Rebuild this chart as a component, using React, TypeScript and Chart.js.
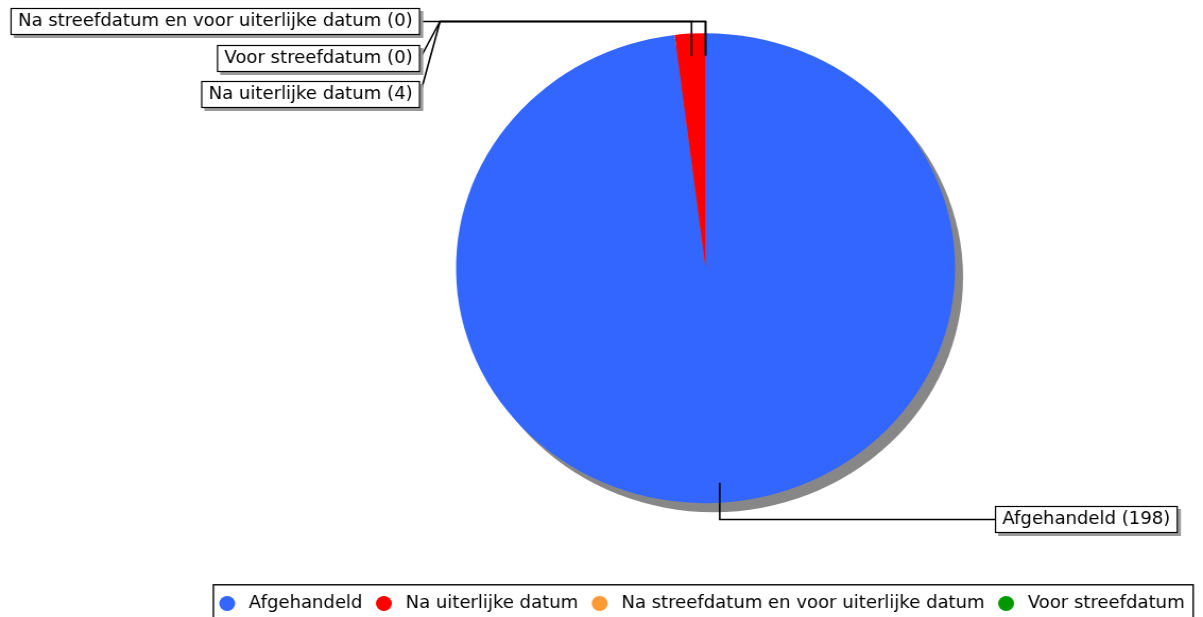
import React, { useEffect, useRef } from "react";
import { Chart, registerables } from "chart.js";

Chart.register(...registerables);

const categories = [
  "Afgehandeld",
  "Na uiterlijke datum",
  "Na streefdatum en voor uiterlijke datum",
  "Voor streefdatum",
];
const counts = [198, 4, 0, 0];
const sliceColors = ["#3366ff", "#ff0000", "#ff9933", "#009900"];

const FONT = '"DejaVu Sans", "Liberation Sans", sans-serif';
const W = 1133;
const H = 622;

const labelText = (i: number) => `${categories[i]} (${counts[i]})`;

// place the pie area (left part of the canvas is reserved for the callout boxes)
const areaPlugin = {
  id: "areaShift",
  afterLayout(chart: any) {
    const a = chart.chartArea;
    a.left = 196;
    a.right = W;
    a.top = -47;
    a.width = a.right - a.left;
    a.height = a.bottom - a.top;
  },
};

const shadowPlugin = {
  id: "pieShadow",
  beforeDatasetsDraw(chart: any) {
    const arc = chart.getDatasetMeta(0).data[0];
    if (!arc) return;
    const ctx = chart.ctx;
    ctx.save();
    ctx.fillStyle = "#878787";
    ctx.beginPath();
    ctx.arc(arc.x + 7.5, arc.y + 9, arc.outerRadius, 0, Math.PI * 2);
    ctx.fill();
    ctx.restore();
  },
};

const calloutPlugin = {
  id: "callouts",
  afterDraw(chart: any) {
    const ctx = chart.ctx;
    const arcs = chart.getDatasetMeta(0).data;
    const anchor = (i: number, f: number) => {
      const a = arcs[i];
      const mid = (a.startAngle + a.endAngle) / 2;
      return {
        x: a.x + Math.cos(mid) * a.outerRadius * f,
        y: a.y + Math.sin(mid) * a.outerRadius * f,
      };
    };
    ctx.save();
    ctx.font = `17px ${FONT}`;
    ctx.textBaseline = "middle";
    const pad = 7;
    const bh = 27;

    const leftOrder = [2, 3, 1];
    const leftY = [21.5, 58.5, 94.5];
    const leftEdge = 395.6;
    const jointX = 414.4;
    const lineY = leftY[0];

    ctx.strokeStyle = "#000";
    ctx.lineWidth = 1.6;
    leftOrder.forEach((idx, k) => {
      const p = anchor(idx, 0.905);
      ctx.beginPath();
      ctx.moveTo(leftEdge, leftY[k]);
      ctx.lineTo(jointX, lineY);
      ctx.lineTo(p.x, lineY);
      ctx.lineTo(p.x, p.y);
      ctx.stroke();
    });

    const rightOrder = [0];
    const rightY = [519.5];
    const rightEdge = 937.1;
    rightOrder.forEach((idx, k) => {
      const p = anchor(idx, 0.915);
      ctx.beginPath();
      ctx.moveTo(p.x, p.y);
      ctx.lineTo(p.x, rightY[k]);
      ctx.lineTo(rightEdge, rightY[k]);
      ctx.stroke();
    });

    const drawBox = (x: number, cy: number, text: string) => {
      const w = ctx.measureText(text).width + pad * 2;
      const top = cy - bh / 2;
      ctx.fillStyle = "#9a9a9a";
      ctx.fillRect(x + 3, top + 3, w, bh);
      ctx.fillStyle = "#fff";
      ctx.fillRect(x, top, w, bh);
      ctx.lineWidth = 1.2;
      ctx.strokeStyle = "#000";
      ctx.strokeRect(x + 0.5, top + 0.5, w - 1, bh - 1);
      ctx.fillStyle = "#000";
      ctx.textAlign = "left";
      ctx.fillText(text, x + pad, cy + 0.5);
    };

    leftOrder.forEach((idx, k) => {
      const t = labelText(idx);
      const w = ctx.measureText(t).width + pad * 2;
      drawBox(leftEdge - w, leftY[k], t);
    });
    rightOrder.forEach((idx, k) => {
      drawBox(rightEdge, rightY[k], labelText(idx));
    });
    ctx.restore();
  },
};

const legendBoxPlugin = {
  id: "legendBox",
  afterDraw(chart: any) {
    const lg = chart.legend;
    if (!lg || !lg.legendHitBoxes || !lg.legendHitBoxes.length) return;
    const hb = lg.legendHitBoxes;
    let l = Infinity;
    let r = -Infinity;
    hb.forEach((h: any) => {
      l = Math.min(l, h.left);
      r = Math.max(r, h.left + h.width);
    });
    const ctx = chart.ctx;
    ctx.save();
    ctx.strokeStyle = "#000";
    ctx.lineWidth = 1.4;
    ctx.strokeRect(l - 4.5, lg.top + 1.5, r - l + 12.5, H);
    ctx.restore();
  },
};

export default function App() {
  const ref = useRef<HTMLCanvasElement>(null);
  useEffect(() => {
    const baseGen = (Chart as any).overrides.pie.plugins.legend.labels.generateLabels;
    const chart = new Chart(ref.current as HTMLCanvasElement, {
      type: "pie",
      data: {
        labels: categories,
        datasets: [
          {
            data: counts,
            backgroundColor: sliceColors,
            borderWidth: 0,
            radius: 235,
          } as any,
        ],
      },
      options: {
        responsive: false,
        devicePixelRatio: 1,
        animation: false,
        events: [],
        layout: { padding: { left: 0, top: 0, bottom: 0, right: 5.6 } },
        plugins: {
          tooltip: { enabled: false },
          legend: {
            position: "bottom",
            align: "end",
            labels: {
              usePointStyle: true,
              pointStyle: "circle",
              boxHeight: 10.6,
              padding: 11.7,
              color: "#000",
              font: { family: FONT, size: 17 },
              generateLabels: (c: any) =>
                baseGen(c).map((it: any) => ({ ...it, text: "\u2009" + it.text })),
            },
          },
        },
      },
      plugins: [areaPlugin, shadowPlugin, calloutPlugin, legendBoxPlugin],
    });
    return () => chart.destroy();
  }, []);
  return (
    <div
      style={{
        position: "absolute",
        left: 0,
        top: 0,
        width: 1203,
        height: 617,
        overflow: "hidden",
        background: "#fff",
      }}
    >
      <canvas
        ref={ref}
        width={W}
        height={H}
        style={{ width: "1203px", height: `${H}px`, display: "block" }}
      />
    </div>
  );
}
